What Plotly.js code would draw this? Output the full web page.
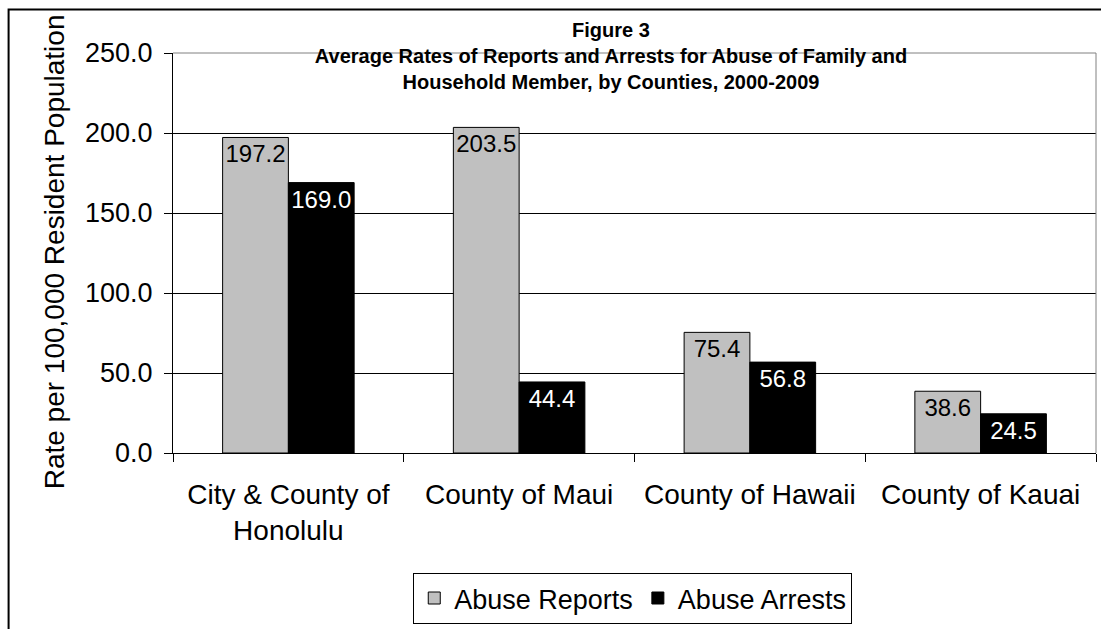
<!DOCTYPE html>
<html>
<head>
<meta charset="utf-8">
<script src="https://cdn.plot.ly/plotly-3.0.1.min.js"></script>
<style>
html,body{margin:0;padding:0;background:#fff;}
#chart{width:1101px;height:629px;}
</style>
</head>
<body>
<div id="chart"></div>
<script>
var categories = ["City & County of<br>Honolulu", "County of Maui", "County of Hawaii", "County of Kauai"];
var abuseReports = [197.2, 203.5, 75.4, 38.6];
var abuseArrests = [169.0, 44.4, 56.8, 24.5];
var yTickVals = [0, 50, 100, 150, 200, 250];
var yTickText = ["0.0", "50.0", "100.0", "150.0", "200.0", "250.0"];

var FONT = "Arial, 'Liberation Sans', sans-serif";

var traces = [
  {
    type: "bar", name: "Abuse Reports", x: categories, y: abuseReports,
    marker: {color: "#C0C0C0", line: {color: "#000000", width: 1}},
    texttemplate: "%{y:.1f}", textposition: "inside", insidetextanchor: "end",
    constraintext: "none", textangle: 0,
    textfont: {family: FONT, size: 24, color: "#000000"},
    hoverinfo: "skip"
  },
  {
    type: "bar", name: "Abuse Arrests", x: categories, y: abuseArrests,
    marker: {color: "#000000", line: {color: "#000000", width: 1}},
    texttemplate: "%{y:.1f}", textposition: "inside", insidetextanchor: "end",
    constraintext: "none", textangle: 0,
    textfont: {family: FONT, size: 24, color: "#FFFFFF"},
    hoverinfo: "skip"
  }
];

var L = 173, R = 1096.5, T = 52.5, B = 456;
var W = R - L, H = B - T;
function px(x){ return (x - L) / W; }
function py(y){ return (B - y) / H; }

var layout = {
  width: 1101, height: 629,
  paper_bgcolor: "#FFFFFF", plot_bgcolor: "#FFFFFF",
  margin: {l: L, r: 1101 - R, t: T, b: 629 - B, pad: 0},
  font: {family: FONT, color: "#000000"},
  barmode: "group", bargap: 0.43, bargroupgap: 0,
  showlegend: true,
  title: {
    text: "<b>Figure 3<br>Average Rates of Reports and Arrests for Abuse of Family and<br>Household Member, by Counties, 2000-2009</b>",
    font: {family: FONT, size: 20, color: "#000000"},
    xref: "container", yref: "container",
    x: 611 / 1101, xanchor: "center",
    y: 1 - 37 / 629, yanchor: "middle"
  },
  xaxis: {
    type: "category",
    showgrid: false, zeroline: false,
    showline: true, linecolor: "#000000", linewidth: 1,
    ticks: "outside", tickson: "boundaries", ticklen: 8, tickcolor: "#000000", tickwidth: 1,
    ticklabelstandoff: 16,
    tickfont: {family: FONT, size: 28, color: "#000000"},
    fixedrange: true
  },
  yaxis: {
    range: [0, 250],
    tickvals: yTickVals, ticktext: yTickText,
    showgrid: true, gridcolor: "#000000", gridwidth: 1,
    zeroline: false,
    showline: true, linecolor: "#000000", linewidth: 1,
    ticks: "outside", ticklen: 8, tickcolor: "#000000", tickwidth: 1,
    ticklabelstandoff: 6,
    tickfont: {family: FONT, size: 27, color: "#000000"},
    fixedrange: true
  },
  legend: {
    orientation: "h",
    x: px(633), xanchor: "center",
    y: py(577), yanchor: "top",
    bordercolor: "#000000", borderwidth: 1,
    bgcolor: "#FFFFFF",
    font: {family: FONT, size: 27, color: "#000000"},
    itemclick: false, itemdoubleclick: false,
    tracegroupgap: 0
  },
  annotations: [
    {
      text: "Rate per 100,000 Resident Population",
      textangle: -90,
      xref: "paper", yref: "paper",
      x: px(54), y: py(253.5),
      xanchor: "center", yanchor: "middle",
      showarrow: false,
      font: {family: FONT, size: 28, color: "#000000"}
    }
  ],
  shapes: [
    {type: "line", xref: "paper", yref: "paper", x0: 0, x1: 1, y0: 1, y1: 1,
     line: {color: "#808080", width: 1}, layer: "above"},
    {type: "line", xref: "paper", yref: "paper", x0: 1, x1: 1, y0: 0, y1: 1,
     line: {color: "#808080", width: 1}, layer: "above"},
    {type: "rect", xref: "paper", yref: "paper",
     x0: px(8.5), x1: px(1120), y0: py(8.5), y1: py(700),
     line: {color: "#000000", width: 2}, fillcolor: "rgba(0,0,0,0)", layer: "above"}
  ]
};

Plotly.newPlot("chart", traces, layout, {displayModeBar: false, staticPlot: true});
</script>
</body>
</html>
